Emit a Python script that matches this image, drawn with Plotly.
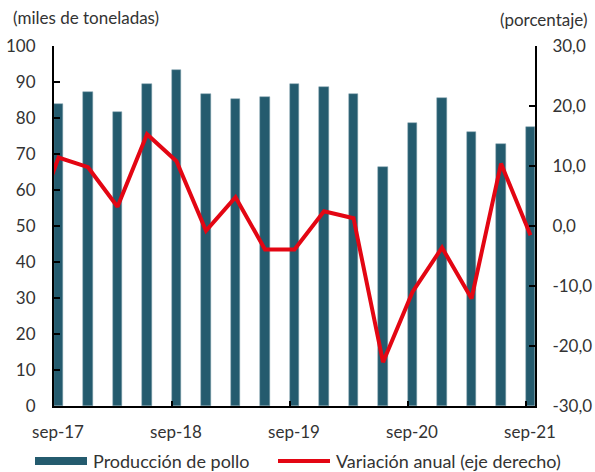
import plotly.graph_objects as go

# ---- data ----
categories = ["sep-17", "dic-17", "mar-18", "jun-18", "sep-18", "dic-18", "mar-19", "jun-19",
              "sep-19", "dic-19", "mar-20", "jun-20", "sep-20", "dic-20", "mar-21", "jun-21", "sep-21"]
produccion = [83.8, 87.1, 81.7, 89.4, 93.2, 86.6, 85.4, 85.9, 89.4, 88.7, 86.6, 66.3,
              78.5, 85.5, 76.2, 72.9, 77.4]
# first value is jun-17 (drawn outside the left edge of the plot)
variacion_prev = -2.0
variacion = [11.4, 9.8, 3.2, 15.3, 10.8, -0.8, 4.8, -3.9, -3.9, 2.45, 1.3, -22.7,
             -11.0, -3.6, -12.1, 10.4, -1.55]
x_tick_labels = ["sep-17", "sep-18", "sep-19", "sep-20", "sep-21"]
y2_tick_vals = [-30, -20, -10, 0, 10, 20, 30]
y2_tick_labels = ["-30,0", "-20,0", "-10,0", "0,0", "10,0", "20,0", "30,0"]

W, H = 595, 472
L, R, T, B = 54, 60, 46, 66
OFF = 0.153
xb = [i + OFF for i in range(len(categories))]
xl = [-1 + OFF] + xb
yl = [variacion_prev] + variacion

TXT = "#333333"
FONT = "Lato"
BAR = "#245B6E"
RED = "#E30613"

fig = go.Figure()
fig.add_trace(go.Bar(x=xb, y=produccion, width=0.33, marker=dict(color=BAR, line=dict(color="#7E9FAC", width=0.5)),
                     name="Producción de pollo", showlegend=False))
fig.add_trace(go.Scatter(x=xl, y=yl, mode="lines", line=dict(color=RED, width=4),
                         yaxis="y2", name="Variación anual (eje derecho)", showlegend=False))

axis_common = dict(showgrid=False, zeroline=False, showline=True, linecolor="black", linewidth=2,
                   ticks="inside", tickcolor="black", tickwidth=2, automargin=False,
                   tickfont=dict(family=FONT, size=17, color=TXT))

fig.update_layout(
    width=W, height=H,
    margin=dict(l=L, r=R, t=T, b=B),
    plot_bgcolor="white", paper_bgcolor="white",
    bargap=0,
    xaxis=dict(axis_common, range=[0, 16.305], tickvals=[0, 4, 8, 12, 16], ticktext=x_tick_labels,
               ticklen=5, ticklabelstandoff=10, ticklabelshift=4),
    yaxis=dict(axis_common, range=[0, 100], dtick=10, ticklen=6, ticklabelstandoff=13),
    yaxis2=dict(axis_common, range=[-30, 30], tickvals=y2_tick_vals, ticktext=y2_tick_labels,
                overlaying="y", side="right", ticklen=6, ticklabelstandoff=12),
    showlegend=False,
)

pw, ph = W - L - R, H - T - B


def px(x):
    return (x - L) / pw


def py(y):
    return (H - B - y) / ph


fig.add_annotation(x=px(11), y=py(17), xref="paper", yref="paper", text="(miles de toneladas)",
                   showarrow=False, xanchor="left", yanchor="middle",
                   font=dict(family=FONT, size=17, color=TXT))
fig.add_annotation(x=px(589), y=py(19), xref="paper", yref="paper", text="(porcentaje)",
                   showarrow=False, xanchor="right", yanchor="middle",
                   font=dict(family=FONT, size=17, color=TXT))

# legend
fig.add_shape(type="rect", xref="paper", yref="paper", x0=px(35), x1=px(87), y0=py(465), y1=py(457),
              fillcolor=BAR, line=dict(width=0))
fig.add_annotation(x=px(91), y=py(461), xref="paper", yref="paper", text="Producción de pollo",
                   showarrow=False, xanchor="left", yanchor="middle",
                   font=dict(family=FONT, size=18, color=TXT))
fig.add_shape(type="line", xref="paper", yref="paper", x0=px(278), x1=px(330), y0=py(461), y1=py(461),
              line=dict(color=RED, width=4))
fig.add_annotation(x=px(334), y=py(461), xref="paper", yref="paper", text="Variación anual (eje derecho)",
                   showarrow=False, xanchor="left", yanchor="middle",
                   font=dict(family=FONT, size=18, color=TXT))

fig.write_html("out.html", config={"displayModeBar": False},
               post_script="document.body.style.margin='0';document.body.style.overflow='hidden';")
